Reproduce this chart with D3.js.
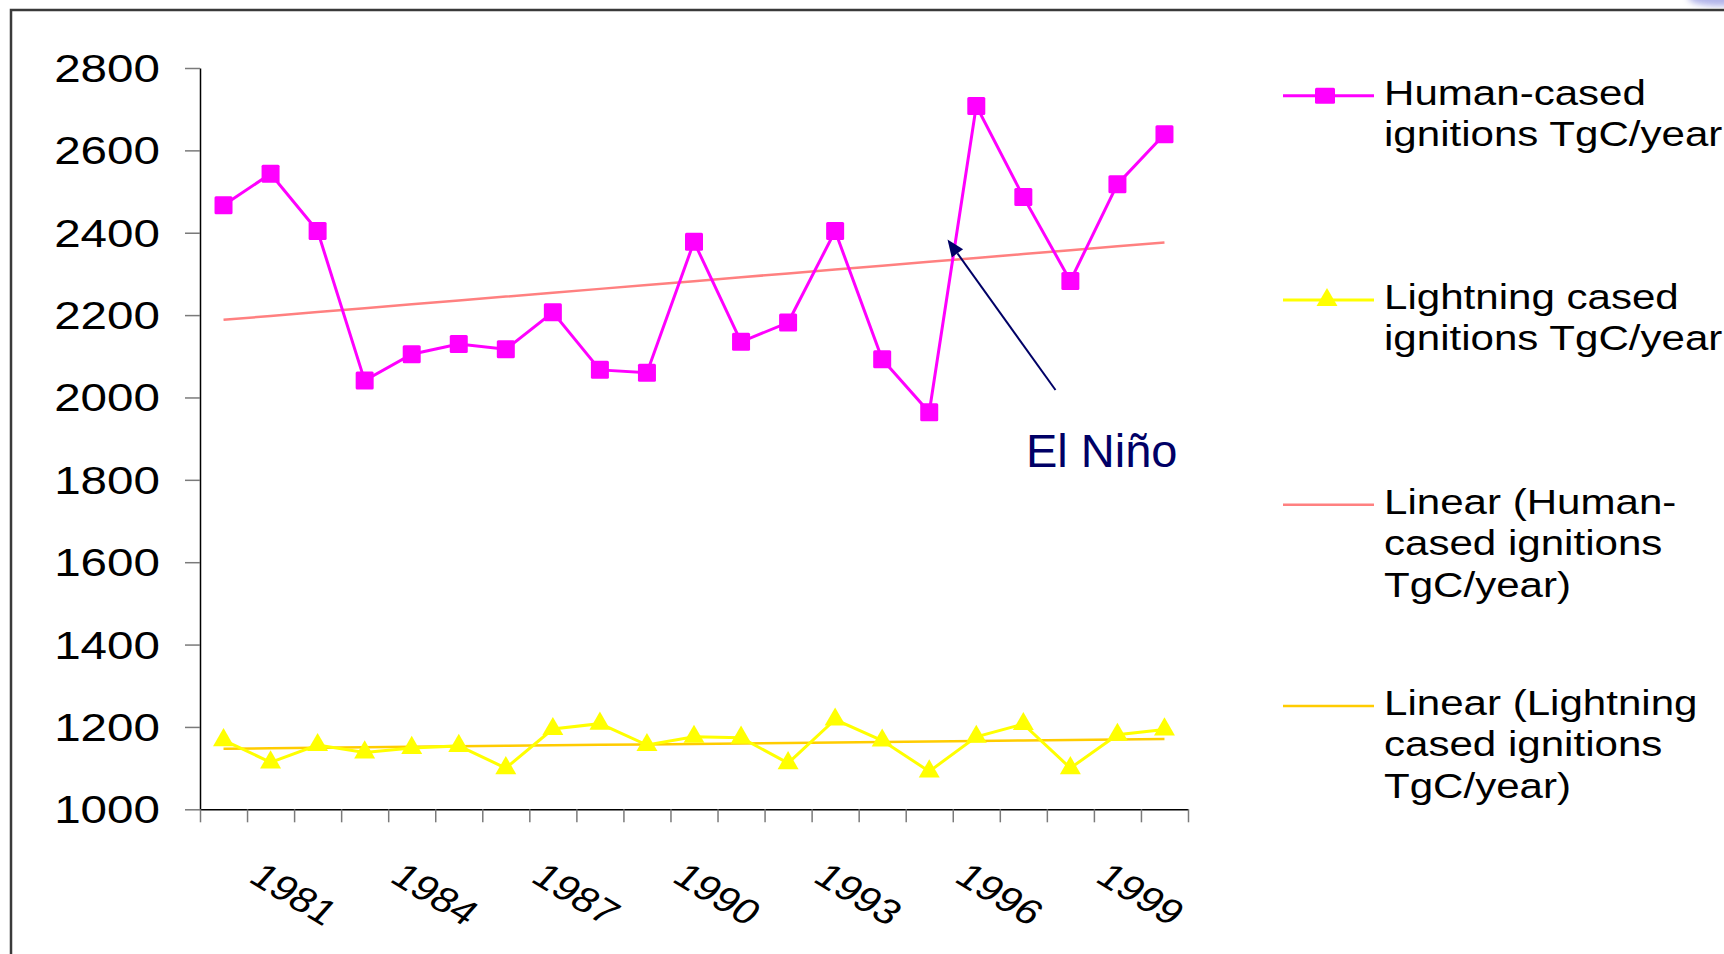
<!DOCTYPE html>
<html>
<head>
<meta charset="utf-8">
<script src="https://cdn.jsdelivr.net/npm/d3@7"></script>
<style>
  html, body { margin: 0; padding: 0; background: #fff; }
  svg { display: block; }
  text { font-family: "Liberation Sans", Arial, sans-serif; }
</style>
</head>
<body>
<svg id="chart" width="1724" height="954"></svg>
<script>
// Annual fire carbon emissions by ignition source
const years = [1981, 1982, 1983, 1984, 1985, 1986, 1987, 1988, 1989, 1990, 1991,
               1992, 1993, 1994, 1995, 1996, 1997, 1998, 1999, 2000, 2001];
const humanValues = [2467, 2543, 2404, 2041, 2105, 2130, 2117, 2207, 2067, 2060, 2378,
                     2135, 2182, 2404, 2093, 1964, 2708, 2487, 2283, 2518, 2639];
const lightningValues = [1168, 1114, 1156, 1138, 1149, 1154, 1100, 1195, 1208, 1156, 1176,
                         1174, 1112, 1218, 1167, 1092, 1176, 1207, 1100, 1181, 1194];
const yTickValues = [1000, 1200, 1400, 1600, 1800, 2000, 2200, 2400, 2600, 2800];
const xLabelYears = [1981, 1984, 1987, 1990, 1993, 1996, 1999];
const seriesNames = [
  ["Human-cased", "ignitions TgC/year"],
  ["Lightning cased", "ignitions TgC/year"],
  ["Linear (Human-", "cased ignitions", "TgC/year)"],
  ["Linear (Lightning", "cased ignitions", "TgC/year)"]
];
const annotationText = "El Niño";

const colors = {
  human: "#ff00ff",
  lightning: "#ffff00",
  humanTrend: "#ff8080",
  lightningTrend: "#ffcc00",
  note: "#000066"
};

const STRETCH = 1.22; // horizontal text widening used across the chart

const svg = d3.select("#chart");

// outer frame
svg.append("rect")
  .attr("x", 11).attr("y", 10)
  .attr("width", 1760).attr("height", 1000)
  .attr("fill", "none").attr("stroke", "#3a3a3a").attr("stroke-width", 2.5);

// faint bluish edge of a neighbouring graphic at the top-right corner
const defs = svg.append("defs");
defs.append("filter").attr("id", "soft")
  .append("feGaussianBlur").attr("stdDeviation", 3);
svg.append("ellipse")
  .attr("cx", 1722).attr("cy", -2).attr("rx", 34).attr("ry", 8)
  .attr("fill", "#8f93e0").attr("opacity", 0.7).attr("filter", "url(#soft)");

// scales
const x = d3.scaleLinear().domain([0, years.length]).range([200, 1188]);
const y = d3.scaleLinear().domain([1000, 2800]).range([809.3, 68]);
const xc = i => x(i + 0.5);

// linear least-squares trend
function trend(vals) {
  const mx = d3.mean(vals, (d, i) => i);
  const my = d3.mean(vals);
  let sxy = 0, sxx = 0;
  vals.forEach((v, i) => { sxy += (i - mx) * (v - my); sxx += (i - mx) * (i - mx); });
  const b = sxy / sxx, a = my - b * mx;
  return vals.map((v, i) => a + b * i);
}
const humanTrend = trend(humanValues);
const lightningTrend = trend(lightningValues);

// y axis
const yAxis = d3.axisLeft(y).tickValues(yTickValues).tickSize(15).tickSizeOuter(0).tickFormat("");
const gy = svg.append("g").attr("transform", "translate(200,0)").call(yAxis);
gy.select(".domain").attr("stroke", "#000").attr("stroke-width", 1.5);
gy.selectAll(".tick line").attr("stroke", "#7a7a7a").attr("stroke-width", 1.5);

svg.append("g").selectAll("text").data(yTickValues).join("text")
  .attr("transform", d => `translate(160,${y(d) + 14}) scale(${STRETCH},1)`)
  .attr("text-anchor", "end")
  .attr("font-size", 39)
  .attr("fill", "#000")
  .text(d => d);

// x axis with ticks at category boundaries
const xAxis = d3.axisBottom(x).tickValues(d3.range(years.length + 1)).tickSize(13).tickSizeOuter(0).tickFormat("");
const gx = svg.append("g").attr("transform", `translate(0,${y(1000)})`).call(xAxis);
gx.select(".domain").attr("stroke", "#000").attr("stroke-width", 1.5);
gx.selectAll(".tick line").attr("stroke", "#7a7a7a").attr("stroke-width", 1.5);

const labelAngle = Math.atan(Math.tan(31 * Math.PI / 180) * STRETCH) * 180 / Math.PI;
svg.append("g").selectAll("text").data(xLabelYears).join("text")
  .attr("transform", d => `translate(${xc(years.indexOf(d)) + 70.5},894) scale(${STRETCH},1) rotate(${labelAngle})`)
  .attr("text-anchor", "middle")
  .attr("dominant-baseline", "central")
  .attr("font-size", 35)
  .attr("fill", "#000")
  .text(d => d);

// series lines
const line = d3.line().x((d, i) => xc(i)).y(d => y(d));

svg.append("path").datum(humanTrend)
  .attr("d", line).attr("fill", "none")
  .attr("stroke", colors.humanTrend).attr("stroke-width", 2.5);
svg.append("path").datum(lightningTrend)
  .attr("d", line).attr("fill", "none")
  .attr("stroke", colors.lightningTrend).attr("stroke-width", 2.5);

svg.append("path").datum(lightningValues)
  .attr("d", line).attr("fill", "none")
  .attr("stroke", colors.lightning).attr("stroke-width", 3);
svg.append("path").datum(humanValues)
  .attr("d", line).attr("fill", "none")
  .attr("stroke", colors.human).attr("stroke-width", 3);

// markers
const SQ = 18;
svg.append("g").selectAll("rect").data(humanValues).join("rect")
  .attr("x", (d, i) => xc(i) - SQ / 2)
  .attr("y", d => y(d) - SQ / 2)
  .attr("width", SQ).attr("height", SQ)
  .attr("rx", 1.5)
  .attr("fill", colors.human);

const tri = d3.symbol().type(d3.symbolTriangle).size(190);
svg.append("g").selectAll("path").data(lightningValues).join("path")
  .attr("d", tri)
  .attr("transform", (d, i) => `translate(${xc(i)},${y(d)})`)
  .attr("fill", colors.lightning);

// El Niño annotation: arrow from the label up to the jump into 1996
const tail = [1055.5, 390];
const tip = [947.5, 239.5];
const ang = Math.atan2(tip[1] - tail[1], tip[0] - tail[0]);
const headLen = 17, headHalf = 7;
const base = [tip[0] - headLen * Math.cos(ang), tip[1] - headLen * Math.sin(ang)];
svg.append("line")
  .attr("x1", tail[0]).attr("y1", tail[1])
  .attr("x2", base[0]).attr("y2", base[1])
  .attr("stroke", colors.note).attr("stroke-width", 2);
svg.append("path")
  .attr("d", d3.line()([
    tip,
    [base[0] + headHalf * Math.sin(ang), base[1] - headHalf * Math.cos(ang)],
    [base[0] - headHalf * Math.sin(ang), base[1] + headHalf * Math.cos(ang)]
  ]) + "Z")
  .attr("fill", colors.note);

svg.append("text")
  .attr("x", 1026).attr("y", 467)
  .attr("font-size", 47)
  .attr("fill", colors.note)
  .text(annotationText);

// legend
const legendItems = [
  { lines: seriesNames[0], lineY: 95.7, color: colors.human, marker: "square", width: 3 },
  { lines: seriesNames[1], lineY: 300, color: colors.lightning, marker: "triangle", width: 3 },
  { lines: seriesNames[2], lineY: 504.7, color: colors.humanTrend, marker: null, width: 2.5 },
  { lines: seriesNames[3], lineY: 706, color: colors.lightningTrend, marker: null, width: 2.5 }
];
const lg = svg.append("g");
legendItems.forEach(item => {
  const g = lg.append("g");
  g.append("line")
    .attr("x1", 1283).attr("x2", 1374)
    .attr("y1", item.lineY).attr("y2", item.lineY)
    .attr("stroke", item.color).attr("stroke-width", item.width);
  if (item.marker === "square") {
    g.append("rect")
      .attr("x", 1325 - 10).attr("y", item.lineY - 8)
      .attr("width", 20).attr("height", 16).attr("rx", 1.5)
      .attr("fill", item.color);
  } else if (item.marker === "triangle") {
    g.append("path").attr("d", tri)
      .attr("transform", `translate(1327,${item.lineY})`)
      .attr("fill", item.color);
  }
  const t = g.append("text")
    .attr("transform", `translate(1384,${item.lineY + 8.8}) scale(${STRETCH},1)`)
    .attr("font-size", 34.5)
    .attr("fill", "#000");
  item.lines.forEach((s, k) => {
    t.append("tspan").attr("x", 0).attr("dy", k === 0 ? 0 : 41.7).text(s);
  });
});
</script>
</body>
</html>
